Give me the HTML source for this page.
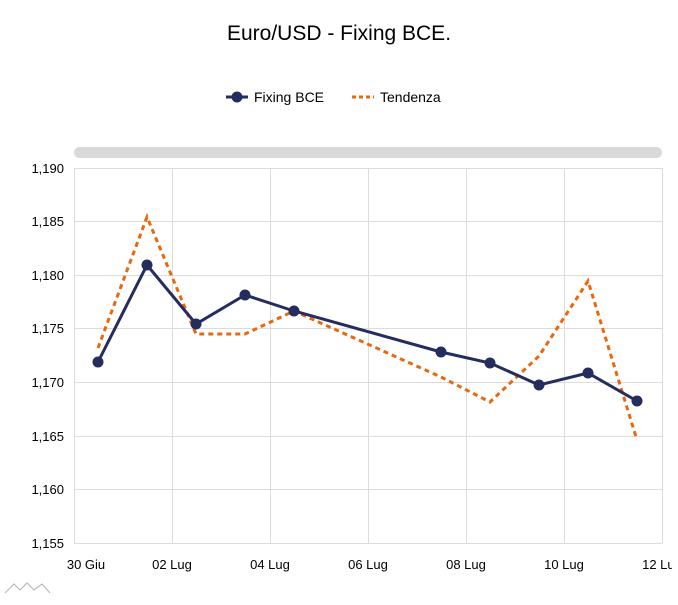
<!DOCTYPE html>
<html><head><meta charset="utf-8"><style>
body{margin:0;background:#fff;font-family:"Liberation Sans",sans-serif;}
</style></head><body>
<svg width="678" height="600" xmlns="http://www.w3.org/2000/svg" font-family="Liberation Sans, sans-serif">
<rect width="678" height="600" fill="#fff"/>
<text x="339" y="40" text-anchor="middle" font-size="21" fill="#000">Euro/USD - Fixing BCE.</text>
<line x1="226" y1="97" x2="248" y2="97" stroke="#252d5e" stroke-width="3"/>
<circle cx="237" cy="97" r="5.5" fill="#252d5e"/>
<text x="254" y="102" font-size="14" fill="#000">Fixing BCE</text>
<line x1="352" y1="97" x2="374" y2="97" stroke="#e8680f" stroke-width="3" stroke-dasharray="4,3"/>
<text x="380" y="102" font-size="14" fill="#000">Tendenza</text>
<rect x="74" y="147" width="588" height="11" rx="5.5" fill="#d9d9d9"/>
<g stroke="#dcdcdc" stroke-width="1">
<line x1="74" y1="168.5" x2="662" y2="168.5"/><line x1="74" y1="221.5" x2="662" y2="221.5"/>
<line x1="74" y1="275.5" x2="662" y2="275.5"/><line x1="74" y1="328.5" x2="662" y2="328.5"/>
<line x1="74" y1="382.5" x2="662" y2="382.5"/><line x1="74" y1="436.5" x2="662" y2="436.5"/>
<line x1="74" y1="489.5" x2="662" y2="489.5"/><line x1="74" y1="543.5" x2="662" y2="543.5"/>
<line x1="74.5" y1="168" x2="74.5" y2="543"/><line x1="172.5" y1="168" x2="172.5" y2="543"/>
<line x1="270.5" y1="168" x2="270.5" y2="543"/><line x1="368.5" y1="168" x2="368.5" y2="543"/>
<line x1="466.5" y1="168" x2="466.5" y2="543"/><line x1="564.5" y1="168" x2="564.5" y2="543"/>
<line x1="662.5" y1="168" x2="662.5" y2="543"/>
</g>
<g font-size="13" fill="#000" text-anchor="end">
<text x="64" y="173">1,190</text><text x="64" y="226">1,185</text><text x="64" y="280">1,180</text>
<text x="64" y="333">1,175</text><text x="64" y="387">1,170</text><text x="64" y="441">1,165</text>
<text x="64" y="494">1,160</text><text x="64" y="548">1,155</text>
</g>
<g font-size="13" fill="#000" text-anchor="middle">
<text x="86" y="569">30 Giu</text><text x="172" y="569">02 Lug</text><text x="270" y="569">04 Lug</text>
<text x="368" y="569">06 Lug</text><text x="466" y="569">08 Lug</text><text x="564" y="569">10 Lug</text>
<text x="662" y="569">12 Lug</text>
</g>
<polyline fill="none" stroke="#e8680f" stroke-width="3" stroke-dasharray="5,4" points="98,348 147,217 196,334 245,334 294,311 441,377 490,402 539,356 588,281 637,440"/>
<polyline fill="none" stroke="#252d5e" stroke-width="3" points="98,362 147,265 196,324 245,295 294,311 441,352 490,363 539,385 588,373 637,401"/>
<g fill="#252d5e">
<circle cx="98" cy="362" r="5.5"/><circle cx="147" cy="265" r="5.5"/><circle cx="196" cy="324" r="5.5"/>
<circle cx="245" cy="295" r="5.5"/><circle cx="294" cy="311" r="5.5"/><circle cx="441" cy="352" r="5.5"/>
<circle cx="490" cy="363" r="5.5"/><circle cx="539" cy="385" r="5.5"/><circle cx="588" cy="373" r="5.5"/>
<circle cx="637" cy="401" r="5.5"/>
</g>
<rect x="672" y="550" width="6" height="30" fill="#fff"/>
<path d="M5,593 L14,584 L20,590 L27,583 L34,590 L42,584 L50,593" fill="none" stroke="#bbb" stroke-width="1.2"/>
</svg>
</body></html>
